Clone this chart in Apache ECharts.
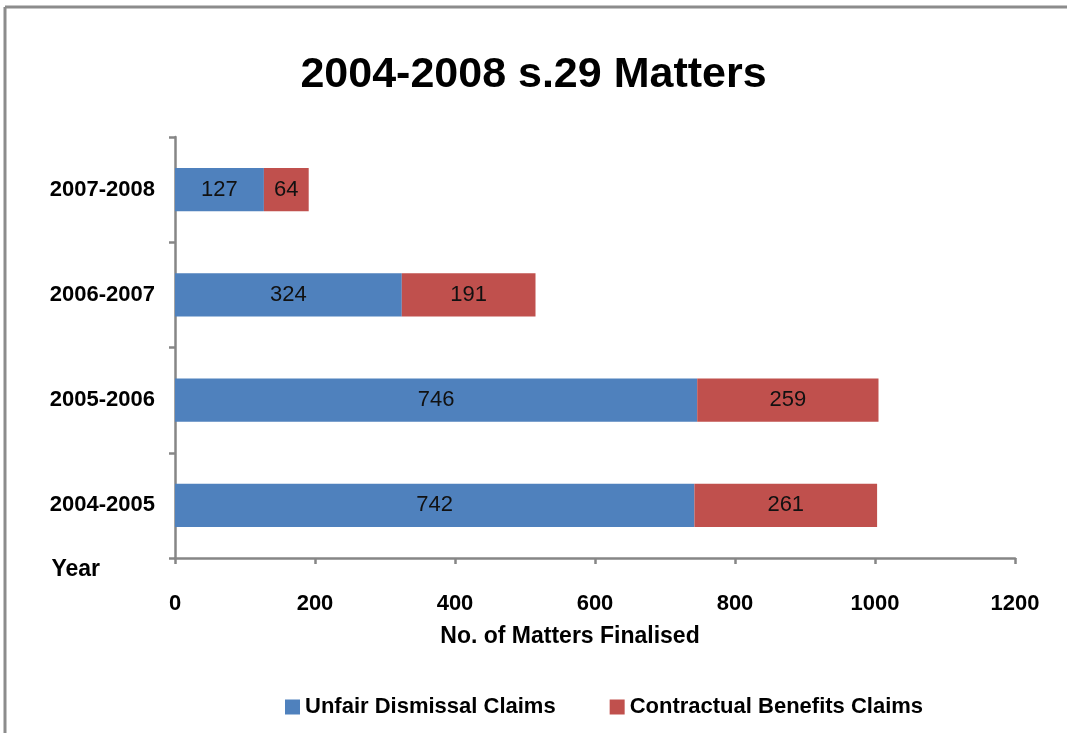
<!DOCTYPE html>
<html lang="en">
<head>
	<meta charset="UTF-8">
	<title>s.29 Matters</title>
	<style type="text/css">
	body,html{
		width: 100%;
		height: 100%;
		margin: 0;
		padding: 0;
		background: #fff;
	}
	#chart{
		width: 1067px;
		height: 733px;
	}
	</style>
</head>
<body>
<div id="chart"></div>
<script type="text/javascript" src="https://cdn.jsdelivr.net/npm/echarts@6/dist/echarts.min.js"></script>
<script type="text/javascript">
	var years = ['2004-2005', '2005-2006', '2006-2007', '2007-2008'];
	var unfairDismissal = [742, 746, 324, 127];
	var contractualBenefits = [261, 259, 191, 64];
	var seriesNames = ['Unfair Dismissal Claims', 'Contractual Benefits Claims'];
	var xTicks = [0, 200, 400, 600, 800, 1000, 1200];

	var font = 'Liberation Sans';
	var chart = echarts.init(document.getElementById('chart'));

	var barLabel = {
		show: true,
		position: 'inside',
		color: '#111',
		fontFamily: font,
		fontSize: 22
	};

	var option = {
		animation: false,
		title: {
			text: '2004-2008 s.29 Matters',
			left: 'center',
			top: 49,
			textStyle: {
				fontFamily: font,
				fontWeight: 'bold',
				fontSize: 43,
				color: '#000'
			}
		},
		graphic: [
			{type: 'line', shape: {x1: 5, y1: 7, x2: 1067, y2: 7}, style: {stroke: '#8c8c8c', lineWidth: 3}},
			{type: 'line', shape: {x1: 5, y1: 7, x2: 5, y2: 733}, style: {stroke: '#8c8c8c', lineWidth: 3}}
		],
		legend: {
			data: seriesNames,
			bottom: 10,
			left: 280,
			itemWidth: 15,
			itemHeight: 15,
			itemGap: 54,
			icon: 'rect',
			textStyle: {
				fontFamily: font,
				fontWeight: 'bold',
				fontSize: 22,
				color: '#000'
			}
		},
		grid: {
			left: 175,
			right: 52,
			top: 137,
			bottom: 175,
			containLabel: false
		},
		xAxis: {
			type: 'value',
			min: 0,
			max: 1200,
			interval: 200,
			name: 'No. of Matters Finalised',
			nameLocation: 'middle',
			nameGap: 67,
			nameTextStyle: {
				fontFamily: font,
				fontWeight: 'bold',
				fontSize: 23,
				color: '#000',
				padding: [0, 50, 0, 0]
			},
			axisLine: {show: true, lineStyle: {color: '#868686', width: 2.5}},
			axisTick: {show: true, length: 6, lineStyle: {color: '#868686', width: 2.5}},
			splitLine: {show: false},
			axisLabel: {
				margin: 35,
				fontFamily: font,
				fontWeight: 'bold',
				fontSize: 22,
				color: '#000',
				formatter: function (v) {
					return xTicks.indexOf(v) >= 0 ? String(v) : '';
				}
			}
		},
		yAxis: {
			type: 'category',
			data: years,
			name: 'Year',
			nameLocation: 'start',
			nameGap: 12,
			nameTextStyle: {
				fontFamily: font,
				fontWeight: 'bold',
				fontSize: 23,
				color: '#000',
				align: 'right',
				verticalAlign: 'middle',
				padding: [0, 75, 0, 0]
			},
			axisLine: {show: true, lineStyle: {color: '#868686', width: 2.5}},
			axisTick: {show: true, length: 6, lineStyle: {color: '#868686', width: 2.5}},
			axisLabel: {
				margin: 20,
				fontFamily: font,
				fontWeight: 'bold',
				fontSize: 22,
				color: '#000'
			}
		},
		series: [
			{
				name: seriesNames[0],
				type: 'bar',
				stack: 'total',
				barWidth: '41%',
				data: unfairDismissal,
				itemStyle: {color: '#4f81bd'},
				label: barLabel
			},
			{
				name: seriesNames[1],
				type: 'bar',
				stack: 'total',
				barWidth: '41%',
				data: contractualBenefits,
				itemStyle: {color: '#c0504d'},
				label: barLabel
			}
		]
	};

	chart.setOption(option);
</script>
</body>
</html>
